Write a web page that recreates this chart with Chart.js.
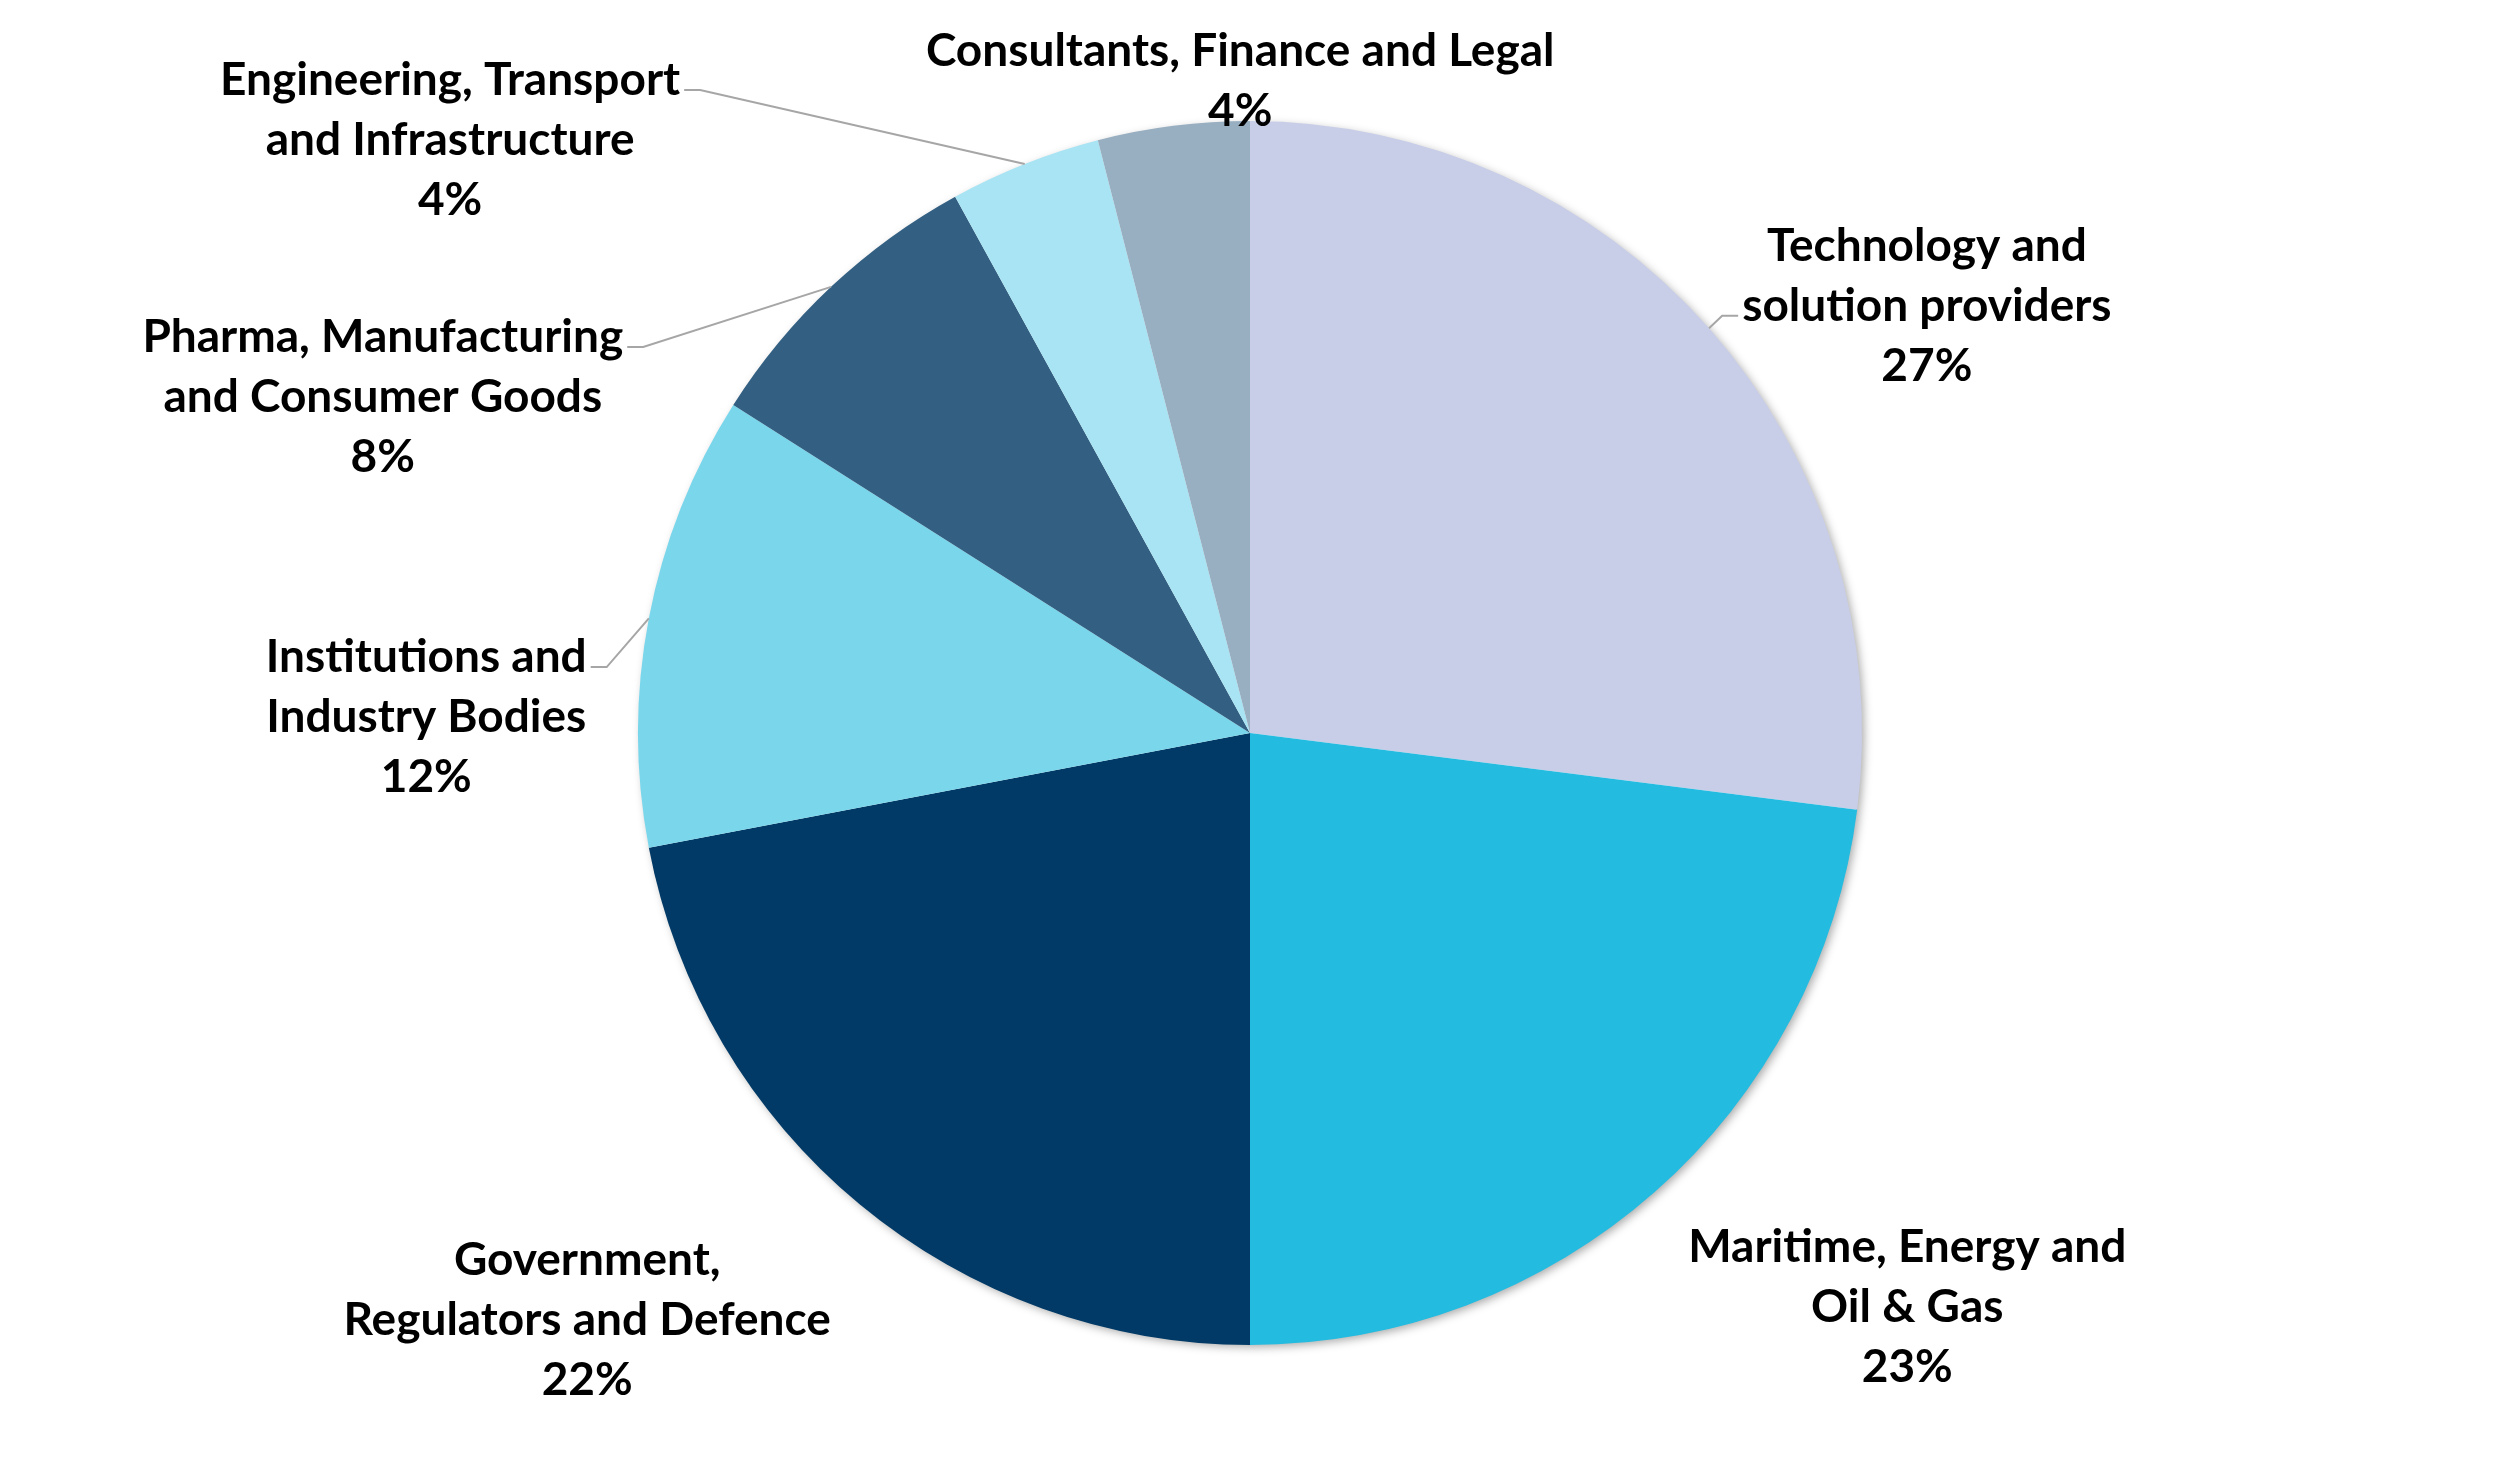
<!DOCTYPE html>
<html>
<head>
<meta charset="utf-8">
<script src="https://cdn.jsdelivr.net/npm/chart.js@4"></script>
<style>
  html, body { margin: 0; padding: 0; background: #fff; }
  #wrap { width: 2500px; height: 1466px; }
</style>
</head>
<body>
<div id="wrap"><canvas id="myChartPie"></canvas></div>
<script>
// data
const sectors = [
  ['Technology and', 'solution providers'],
  ['Maritime, Energy and', 'Oil & Gas'],
  ['Government,', 'Regulators and Defence'],
  ['Institutions and', 'Industry Bodies'],
  ['Pharma, Manufacturing', 'and Consumer Goods'],
  ['Engineering, Transport', 'and Infrastructure'],
  ['Consultants, Finance and Legal']
];
const shares = [27, 23, 22, 12, 8, 4, 4];
const sliceColors = ['#C9CEE8', '#23BBDF', '#013A66', '#7AD6EB', '#336082', '#A8E4F3', '#98AEC1'];

// label placement, in units of the pie radius from the centre (fx, fy)
// lead = line index the leader line attaches to, -1 = no leader
const labelLayout = [
  { fx: 1.106, fy: -0.698, lead: 1 },
  { fx: 1.074, fy: 0.938, lead: -1 },
  { fx: -1.083, fy: 0.959, lead: -1 },
  { fx: -1.346, fy: -0.026, lead: 0 },
  { fx: -1.417, fy: -0.549, lead: 0 },
  { fx: -1.307, fy: -0.969, lead: 0 },
  { fx: -0.016, fy: -1.065, lead: -1 }
];

const FONT = 'bold 46px Lato, "Open Sans", sans-serif';
const LINE_H = 60;

const pieShadow = {
  id: 'pieShadow',
  beforeDatasetsDraw(chart) {
    const arc = chart.getDatasetMeta(0).data[0];
    if (!arc) return;
    const c = chart.ctx;
    c.save();
    c.shadowColor = 'rgba(0,0,0,0.35)';
    c.shadowBlur = 10;
    c.shadowOffsetX = 3;
    c.shadowOffsetY = 3;
    c.fillStyle = '#fff';
    c.beginPath();
    c.arc(arc.x, arc.y, arc.outerRadius - 1, 0, Math.PI * 2);
    c.fill();
    c.restore();
  }
};

const pieLabels = {
  id: 'pieLabels',
  afterDatasetsDraw(chart) {
    const c = chart.ctx;
    const meta = chart.getDatasetMeta(0);
    const total = shares.reduce((a, b) => a + b, 0);
    c.save();
    c.font = FONT;
    c.fillStyle = '#000';
    c.textAlign = 'center';
    c.textBaseline = 'middle';
    meta.data.forEach((arc, i) => {
      const r = arc.outerRadius;
      const lay = labelLayout[i];
      const lines = sectors[i].concat([Math.round(shares[i] / total * 100) + '%']);
      const cx = arc.x + lay.fx * r;
      const cy = arc.y + lay.fy * r;
      const top = cy - (lines.length - 1) * LINE_H / 2;
      lines.forEach((t, k) => c.fillText(t, cx, top + k * LINE_H));

      if (lay.lead >= 0) {
        const mid = (arc.startAngle + arc.endAngle) / 2;
        const ax = arc.x + Math.cos(mid) * r;
        const ay = arc.y + Math.sin(mid) * r;
        const w = c.measureText(lines[lay.lead]).width;
        const ly = top + lay.lead * LINE_H + 10;
        const side = lay.fx < 0 ? 1 : -1;
        const ex = cx + side * (w / 2 + 4);
        const bx = ex + side * 16;
        c.strokeStyle = '#A6A6A6';
        c.lineWidth = 2;
        c.beginPath();
        c.moveTo(ex, ly);
        c.lineTo(bx, ly);
        c.lineTo(ax, ay);
        c.stroke();
      }
    });
    c.restore();
  }
};

const ctx = document.getElementById('myChartPie');
new Chart(ctx, {
  type: 'pie',
  data: {
    labels: sectors.map(s => s.join(' ')),
    datasets: [{
      data: shares,
      backgroundColor: sliceColors,
      borderColor: sliceColors,
      borderWidth: 0
    }]
  },
  options: {
    responsive: true,
    maintainAspectRatio: false,
    animation: false,
    layout: { padding: { top: 121, bottom: 121, left: 0, right: 0 } },
    plugins: {
      legend: { display: false },
      tooltip: { enabled: false }
    }
  },
  plugins: [pieShadow, pieLabels]
});
</script>
</body>
</html>
